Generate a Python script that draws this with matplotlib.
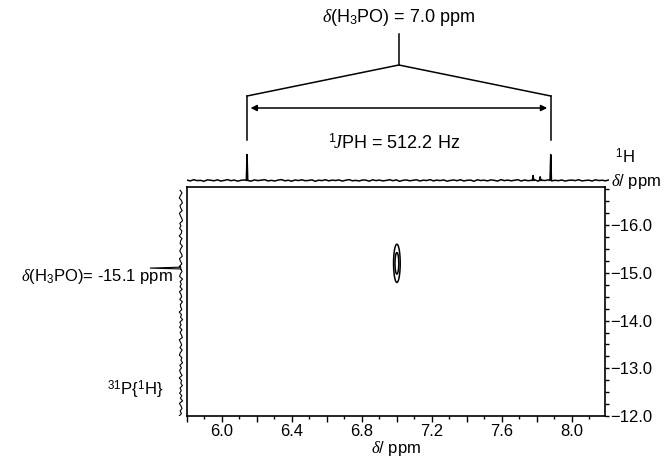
import matplotlib
matplotlib.use('Agg')
import matplotlib.pyplot as plt
import matplotlib.transforms as mtransforms
from matplotlib.ticker import MultipleLocator, FuncFormatter
import numpy as np

plt.rcParams['font.family'] = 'Liberation Sans'
plt.rcParams['mathtext.fontset'] = 'custom'
plt.rcParams['mathtext.rm'] = 'Liberation Sans'
plt.rcParams['mathtext.it'] = 'Liberation Serif:italic'
plt.rcParams['mathtext.bf'] = 'Liberation Sans:bold'

# --- data ---
# 1H projection (top): peak positions (ppm) and relative heights
h1_shift = [6.14, 7.76, 7.80, 7.86]
h1_height = [0.85, 0.16, 0.12, 0.85]
# 31P{1H} projection (left): peak position (ppm) and height
p31_shift = [-15.1]
p31_height = [0.75]
# 2D cross peak: centre (1H ppm, 31P ppm) and widths
cross_center = [7.0, -15.2]
cross_width = [0.0106, 0.223]
cross_levels = [0.2, 0.6]
# baseline noise of the projections (estimated wiggle)
noise_1h = [0.3, -0.5, 0.8, -0.2, 0.1, -0.9, 0.6, 0.2, -0.4, 0.7, -0.6, 0.0, 0.9, -0.3,
            0.4, -0.8, 0.2, 0.5, -0.1, -0.7, 0.6, -0.2, 0.3, 0.8, -0.5, 0.1, -0.6, 0.4,
            0.9, -0.4, 0.2, -0.8, 0.5, -0.1, 0.7, -0.3, 0.0, 0.6, -0.9, 0.3, -0.2, 0.8,
            -0.5, 0.4, -0.1, 0.6, -0.7, 0.2, 0.9, -0.4, 0.1, -0.6, 0.5, 0.3, -0.8, 0.7,
            -0.2, 0.4, -0.5, 0.0, 0.8, -0.3, 0.6, -0.9, 0.2, 0.5, -0.4, 0.1, 0.7, -0.6,
            0.3, -0.1, 0.9, -0.5, 0.4, -0.2, 0.6, -0.8, 0.0, 0.5, -0.3, 0.8, -0.6, 0.2,
            0.4, -0.9, 0.7, -0.1, 0.3, -0.5, 0.6, 0.1, -0.7, 0.9, -0.2, 0.4, -0.4, 0.2,
            0.8, -0.6, 0.5, -0.3, 0.1, 0.7, -0.8, 0.3, -0.1, 0.6, -0.5, 0.2, -0.3, 0.5,
            -0.7, 0.1, 0.4, -0.2, 0.8, -0.5, 0.0, 0.3, -0.6, 0.7, -0.1, 0.2, -0.4, 0.6]
noise_31p = [0.4, -0.6, 0.2, 0.9, -0.3, -0.8, 0.5, 0.1, -0.7, 0.8, 0.3, -0.4, -0.9, 0.6,
             0.0, 0.7, -0.5, -0.2, 0.9, -0.6, 0.2, 0.4, -0.8, 0.1, 0.6, -0.3, -0.7, 0.8,
             0.2, -0.5, 0.9, -0.1, -0.6, 0.3, 0.7, -0.9, 0.4, -0.2, 0.5, -0.7, 0.8, 0.0,
             -0.4, 0.6, -0.8, 0.3, 0.1, -0.5, 0.9, -0.3, 0.2, -0.9, 0.6, -0.1, 0.7, -0.6,
             0.4, -0.2, -0.8, 0.9, 0.1, -0.4, 0.5, -0.7, 0.3, 0.8, -0.5, 0.0, -0.9, 0.6,
             -0.3, 0.7, 0.2, -0.6, 0.9, -0.4, 0.1, -0.8, 0.5, -0.2, 0.7, -0.5, 0.3, -0.9,
             0.8, 0.0, -0.6, 0.4, -0.3, 0.9]

x_range = (5.8, 8.19)
y_range = (-12.0, -16.8)

W, H = 669, 459
fig = plt.figure(figsize=(W / 100, H / 100), dpi=100)
fig.patch.set_facecolor('white')


def box(left, top, right, bottom):
    return [left / W, 1 - bottom / H, (right - left) / W, (bottom - top) / H]


# --- main 2D panel ---
ax = fig.add_axes(box(187, 187, 605, 416))
ax.set_xlim(*x_range)
ax.set_ylim(*y_range)
for s in ax.spines.values():
    s.set_linewidth(1.2)

xs = np.linspace(6.9, 7.1, 300)
ys = np.linspace(-16.2, -14.2, 400)
XX, YY = np.meshgrid(xs, ys)
ZZ = np.exp(-0.5 * ((XX - cross_center[0]) / cross_width[0]) ** 2
            - 0.5 * ((YY - cross_center[1]) / cross_width[1]) ** 2)
ax.contour(XX, YY, ZZ, levels=cross_levels, colors='k', linewidths=1.1)

fmt_minus = lambda v: f"{v:.1f}".replace('-', '\u2212')
ax.xaxis.set_major_locator(MultipleLocator(0.2))
ax.xaxis.set_minor_locator(MultipleLocator(0.1))
ax.xaxis.set_major_formatter(FuncFormatter(
    lambda v, p: f"{v:.1f}" if abs(v / 0.4 - round(v / 0.4)) < 1e-6 else ""))
ax.yaxis.tick_right()
ax.yaxis.set_major_locator(MultipleLocator(1.0))
ax.yaxis.set_minor_locator(MultipleLocator(0.25))
ax.yaxis.set_major_formatter(FuncFormatter(lambda v, p: fmt_minus(v)))
ax.tick_params(axis='x', which='major', direction='out', length=4, width=1, labelsize=12, pad=2)
ax.tick_params(axis='x', which='minor', direction='out', length=2.5, width=1)
ax.tick_params(axis='y', which='major', direction='out', length=3, width=1, labelsize=12, pad=1)
ax.tick_params(axis='y', which='minor', direction='out', length=3, width=1)
ax.set_xlabel(r'$\delta$/ ppm', fontsize=12, labelpad=0)

# --- 1H projection (top) ---
ax_top = fig.add_axes(box(187, 150, 609, 185))
ax_top.set_xlim(*x_range)
ax_top.set_ylim(-0.15, 1.0)
ax_top.axis('off')
hx = list(np.linspace(x_range[0], x_range[1], len(noise_1h)))
hy = list(np.array(noise_1h) * 0.03)
for p, h in zip(h1_shift, h1_height):
    hx += [p - 0.004, p, p + 0.004]
    hy += [0.0, h, 0.0]
order = np.argsort(hx)
ax_top.plot(np.array(hx)[order], np.array(hy)[order], color='k', lw=1.1)

# --- 31P{1H} projection (left) ---
ax_left = fig.add_axes(box(140, 187, 185, 416))
ax_left.set_ylim(*y_range)
ax_left.set_xlim(1.0, -0.1)
ax_left.axis('off')
py = list(np.linspace(-16.73, -12.0, len(noise_31p)))
px = list(np.array(noise_31p) * 0.045)
for p, h in zip(p31_shift, p31_height):
    py += [p - 0.02, p, p + 0.02]
    px += [0.0, h, 0.0]
order = np.argsort(py)
ax_left.plot(np.array(px)[order], np.array(py)[order], color='k', lw=0.8)

# --- coupling bracket above the 1H projection ---
trans = mtransforms.blended_transform_factory(ax_top.transData, fig.transFigure)
fy = lambda pix: 1 - pix / H
x_lo, x_hi = h1_shift[0], h1_shift[-1]
x_mid = 0.5 * (x_lo + x_hi)
kw = dict(color='k', lw=1.1, transform=trans, clip_on=False)
ax_top.plot([x_mid, x_mid], [fy(34), fy(65)], **kw)
ax_top.plot([x_lo, x_mid, x_hi], [fy(96), fy(65), fy(96)], **kw)
ax_top.plot([x_lo, x_lo], [fy(96), fy(140)], **kw)
ax_top.plot([x_hi, x_hi], [fy(96), fy(140)], **kw)
ax_top.annotate('', xy=(x_lo + 0.02, fy(108)), xycoords=trans,
                xytext=(x_hi - 0.02, fy(108)), textcoords=trans,
                arrowprops=dict(arrowstyle='<|-|>', mutation_scale=9, lw=1.1,
                                color='k', shrinkA=0, shrinkB=0))
ax_top.text(x_mid, fy(18), r'$\delta$(H$_3$PO) = 7.0 ppm', transform=trans,
            ha='center', va='center', fontsize=13)
ax_top.text(x_mid - 0.03, fy(143), r'$^1\!J$PH = 512.2 Hz', transform=trans,
            ha='center', va='center', fontsize=13)

# --- side labels ---
fig.text(615 / W, fy(157), r'$^1$H', ha='left', va='center', fontsize=12)
fig.text(611 / W, fy(181), r'$\delta$/ ppm', ha='left', va='center', fontsize=12)
fig.text(173 / W, fy(277), r'$\delta$(H$_3$PO)= -15.1 ppm', ha='right', va='center', fontsize=12)
fig.text(163 / W, fy(390), r'$^{31}$P{$^1$H}', ha='right', va='center', fontsize=12)

fig.savefig('out.png', dpi=100, facecolor='white')
